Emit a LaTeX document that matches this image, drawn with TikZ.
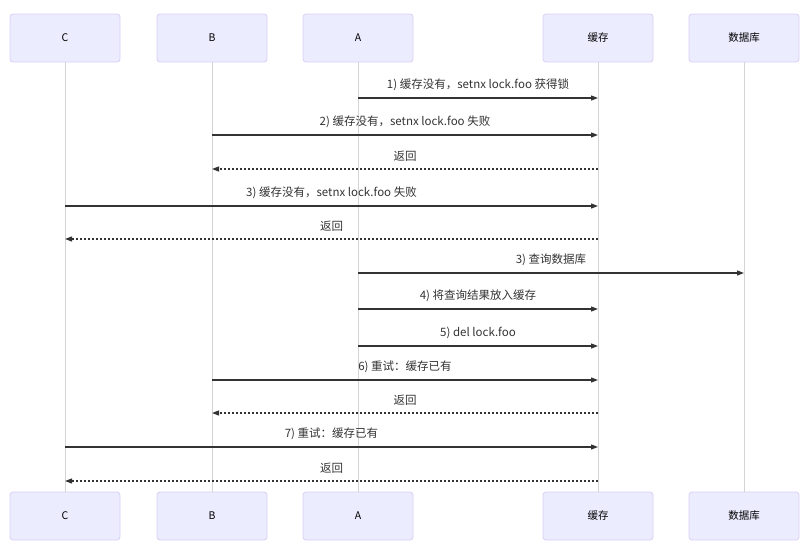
\documentclass[tikz,border=0pt]{standalone}
\usepackage{fontspec}
\setmainfont{Noto Sans CJK SC}
\usetikzlibrary{positioning, arrows.meta, calc}
\definecolor{actorbg}{HTML}{ECECFF}
\definecolor{actorline}{HTML}{DACEF3}
\definecolor{lifegray}{HTML}{D4D4D4}
\definecolor{msgcol}{HTML}{333333}

\begin{document}
\begin{tikzpicture}[
    x=1pt, y=-1pt,
    actor/.style={
        draw=actorline, fill=actorbg, rounded corners=3pt, line width=0.8pt,
        minimum width=110pt, minimum height=48pt,
        font=\fontsize{10.5}{12}\selectfont, text=black
    },
    lifeline/.style={
        color=lifegray, line width=1pt
    },
    msg/.style={
        -{Triangle[length=7pt, width=5pt]}, line width=1.2pt, color=msgcol
    },
    reply/.style={
        msg, dash pattern=on 2pt off 2pt
    },
    msglbl/.style={
        font=\fontsize{11.5}{13}\selectfont, color=msgcol, inner sep=0pt
    }
]

% Page size (1pt = 1px)
\useasboundingbox (0, 0) rectangle (808, 549);

% Participants, top and bottom, with lifelines between them
\foreach \n/\x/\t in {C/65/C, B/212/B, A/358/A, cache/598/缓存, db/744/数据库} {
    \node[actor] (top\n) at (\x, 38) {\t};
    \node[actor] (bot\n) at (\x, 516) {\t};
    \draw[lifeline] (top\n.south) -- (bot\n.north);
}

% Messages: style / from / to / row / label
\foreach \s/\from/\to/\y/\t in {
    msg/A/cache/98/{1) 缓存没有，setnx lock.foo 获得锁},
    msg/B/cache/135/{2) 缓存没有，setnx lock.foo 失败},
    reply/cache/B/169/{返回},
    msg/C/cache/206/{3) 缓存没有，setnx lock.foo 失败},
    reply/cache/C/239/{返回},
    msg/A/db/273/{3) 查询数据库},
    msg/A/cache/309/{4) 将查询结果放入缓存},
    msg/A/cache/346/{5) del lock.foo},
    msg/B/cache/380/{6) 重试：缓存已有},
    reply/cache/B/413/{返回},
    msg/C/cache/447/{7) 重试：缓存已有},
    reply/cache/C/481/{返回}} {
    \draw[\s] (top\from.south |- 0,\y) -- node[msglbl, above=6.5pt] {\t} (top\to.south |- 0,\y);
}

\end{tikzpicture}
\end{document}
